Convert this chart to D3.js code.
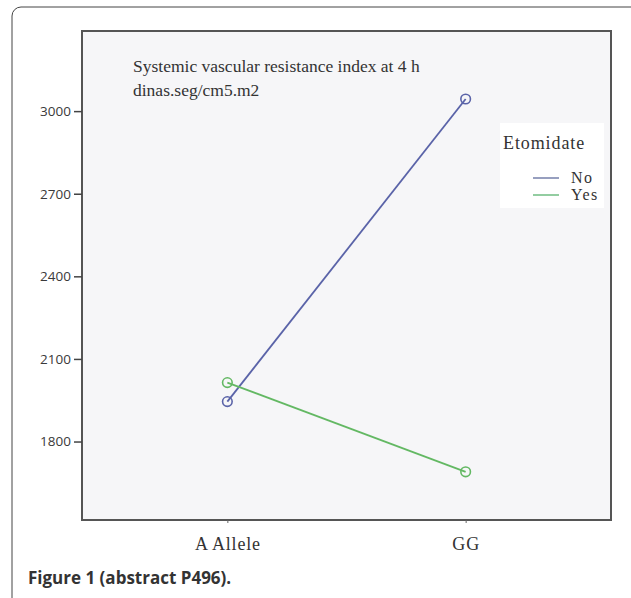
<!DOCTYPE html>
<html><head><meta charset="utf-8">
<script src="https://cdn.jsdelivr.net/npm/d3@7"></script>
<style>body{margin:0;background:#fff;} svg{display:block;}</style>
</head><body>
<script>
const categories = ["A Allele", "GG"];
const seriesNames = ["No", "Yes"];
const valuesNo = [1945, 3044];
const valuesYes = [2014, 1690];
const yTicks = [1800, 2100, 2400, 2700, 3000];
const titleLines = ["Systemic vascular resistance index at 4 h", "dinas.seg/cm5.m2"];
const legendTitle = "Etomidate";
const caption = "Figure 1 (abstract P496).";
const colors = {No: "#5a63a8", Yes: "#63b863"};
const legendColors = {No: "#7d88b0", Yes: "#79c18a"};

const W = 631, H = 598;
const svg = d3.select("body").append("svg").attr("width", W).attr("height", H);

// outer rounded frame
svg.append("rect").attr("x", 12).attr("y", 7).attr("width", 640).attr("height", 640)
  .attr("rx", 9).attr("fill", "#fff").attr("stroke", "#444").attr("stroke-width", 1);

const plot = {l: 82, t: 31, r: 611, b: 520};
const x = d3.scalePoint().domain(categories).range([plot.l, plot.r]).padding(0.61);
const y = d3.scaleLinear().domain([1515, 3291]).range([plot.b, plot.t]);

svg.append("rect").attr("x", plot.l).attr("y", plot.t).attr("width", plot.r - plot.l).attr("height", plot.b - plot.t)
  .attr("fill", "#f6f6f8").attr("stroke", "#555").attr("stroke-width", 2);

const yAxis = svg.append("g").attr("transform", `translate(${plot.l},0)`)
  .call(d3.axisLeft(y).tickValues(yTicks).tickSize(8).tickPadding(3).tickFormat(d3.format("d")));
yAxis.select(".domain").remove();
yAxis.selectAll("line").attr("stroke", "#444").attr("stroke-width", 1.5);
yAxis.selectAll("text").attr("font-family", "'Open Sans', sans-serif").attr("font-size", 13.5).attr("fill", "#3a3a3a");

const xAxis = svg.append("g").attr("transform", `translate(0,${plot.b})`)
  .call(d3.axisBottom(x).tickSize(3).tickPadding(14));
xAxis.select(".domain").remove();
xAxis.selectAll("line").attr("stroke", "#666");
xAxis.selectAll("text").attr("font-family", "'Liberation Serif', serif").attr("font-size", 18)
  .attr("letter-spacing", 0.8).attr("fill", "#333");

// title
svg.append("text").attr("x", 133).attr("y", 72).attr("font-family", "'Liberation Serif', serif")
  .attr("font-size", 17.5).attr("fill", "#333")
  .selectAll("tspan").data(titleLines).join("tspan").attr("x", 133).attr("dy", (d, i) => i ? 24 : 0).text(d => d);

const series = [{name: "No", values: valuesNo}, {name: "Yes", values: valuesYes}];
const line = d3.line().x((d, i) => x(categories[i])).y(d => y(d));
const g = svg.append("g");
series.forEach(s => {
  g.append("path").attr("d", line(s.values)).attr("fill", "none").attr("stroke", colors[s.name]).attr("stroke-width", 1.8);
  g.selectAll(null).data(s.values).join("circle")
    .attr("cx", (d, i) => x(categories[i])).attr("cy", d => y(d)).attr("r", 4.8)
    .attr("fill", "none").attr("stroke", colors[s.name]).attr("stroke-width", 1.6);
});

// legend
const lg = svg.append("g");
lg.append("rect").attr("x", 500).attr("y", 123).attr("width", 104).attr("height", 85).attr("fill", "#fff");
lg.append("text").attr("x", 503).attr("y", 149).attr("font-family", "'Liberation Serif', serif")
  .attr("font-size", 18).attr("letter-spacing", 0.9).attr("fill", "#333").text(legendTitle);
seriesNames.forEach((n, i) => {
  const yy = 178 + i * 17;
  lg.append("line").attr("x1", 533).attr("x2", 559).attr("y1", yy).attr("y2", yy).attr("stroke", legendColors[n]).attr("stroke-width", 1.6);
  lg.append("text").attr("x", 571).attr("y", yy + 5).attr("font-family", "'Liberation Serif', serif")
    .attr("font-size", 16).attr("letter-spacing", 1.5).attr("fill", "#333").text(n);
});

svg.append("text").attr("x", 28).attr("y", 584).attr("font-family", "'Open Sans', sans-serif")
  .attr("font-weight", "bold").attr("font-size", 17).attr("fill", "#333").text(caption);
</script>
</body></html>
